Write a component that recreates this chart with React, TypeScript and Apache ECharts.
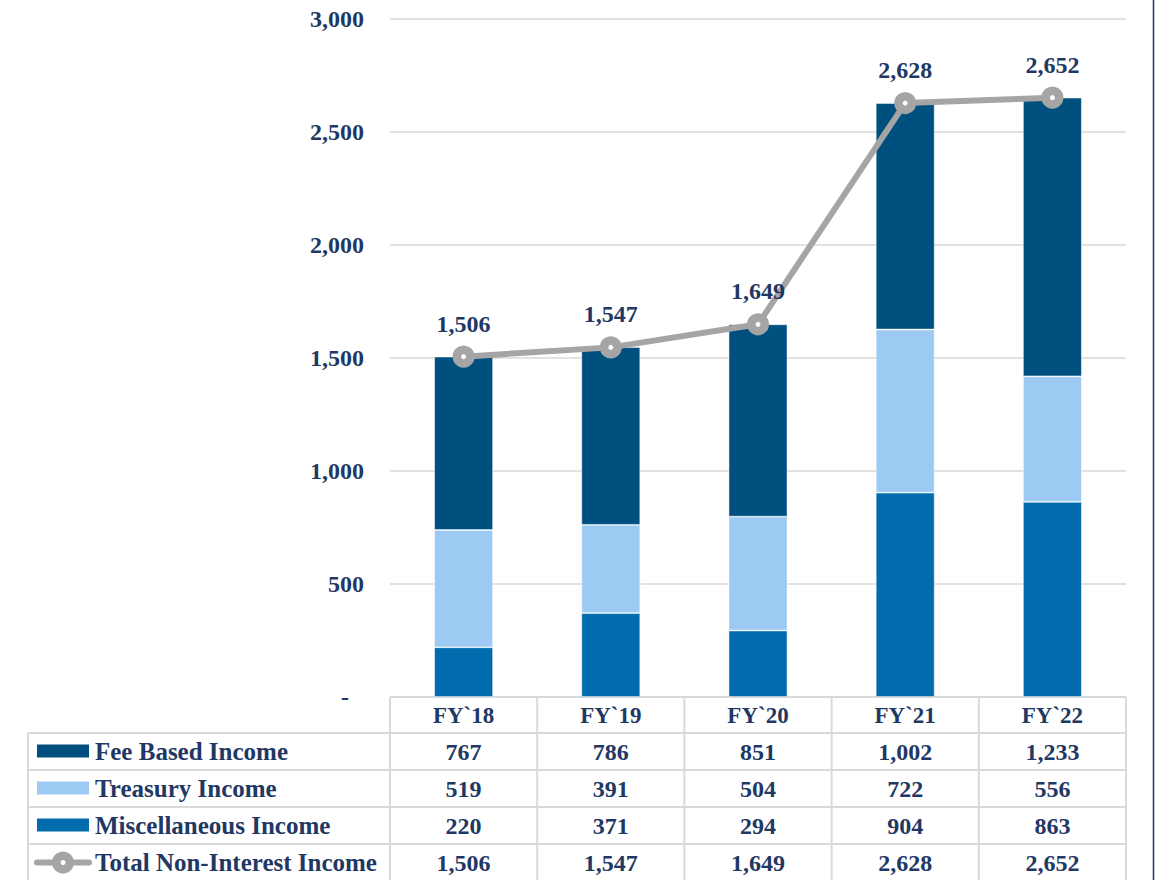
import React, { useEffect, useRef } from "react";
import * as echarts from "echarts";

const categories = ["FY`18", "FY`19", "FY`20", "FY`21", "FY`22"];
const feeBased = [767, 786, 851, 1002, 1233];
const treasury = [519, 391, 504, 722, 556];
const misc = [220, 371, 294, 904, 863];
const total = [1506, 1547, 1649, 2628, 2652];
const seriesNames = ["Fee Based Income", "Treasury Income", "Miscellaneous Income", "Total Non-Interest Income"];
const yTicks = { min: 0, max: 3000, interval: 500 };

const FONT = "'Liberation Serif', 'Times New Roman', serif";
const NAVY = "#1F3864";
const C_FEE = "#00507F";
const C_TRE = "#9DCAF3";
const C_MISC = "#006BAD";
const C_LINE = "#A5A5A5";
const GRID_C = "#D9D9D9";

const fmt = (v: number) => v.toLocaleString("en-US");

export default function App() {
  const ref = useRef<HTMLDivElement>(null);
  useEffect(() => {
    if (!ref.current) return;
    const chart = echarts.init(ref.current, undefined, { renderer: "svg" });
    const gridLeft = 390;
    const gridRight = 29;
    const gridTop = 19;
    const gridBottom = 183;
    chart.setOption({
      animation: false,
      grid: { left: gridLeft, right: gridRight, top: gridTop, bottom: gridBottom },
      xAxis: {
        type: "category",
        data: categories,
        axisLine: { show: false },
        axisTick: { show: false },
        axisLabel: {
          margin: 7,
          color: NAVY,
          fontFamily: FONT,
          fontWeight: "bold",
          fontSize: 23,
          lineHeight: 23,
        },
      },
      yAxis: {
        type: "value",
        min: yTicks.min,
        max: yTicks.max,
        interval: yTicks.interval,
        axisLine: { show: false },
        axisTick: { show: false },
        splitLine: { lineStyle: { color: GRID_C, width: 1.5 } },
        axisLabel: {
          margin: 26,
          color: NAVY,
          fontFamily: FONT,
          fontWeight: "bold",
          fontSize: 24,
          formatter: (v: number) => (v === 0 ? "{d|-}" : fmt(v)),
          rich: {
            d: { color: NAVY, fontFamily: FONT, fontWeight: "bold", fontSize: 24, padding: [0, 15, 0, 0] },
          },
        },
      },
      series: [
        {
          name: seriesNames[2],
          type: "bar",
          stack: "a",
          data: misc,
          barWidth: "40%",
          itemStyle: { color: C_MISC, borderColor: "rgba(255,255,255,0.6)", borderWidth: 0.8 },
        },
        {
          name: seriesNames[1],
          type: "bar",
          stack: "a",
          data: treasury,
          itemStyle: { color: C_TRE, borderColor: "rgba(255,255,255,0.6)", borderWidth: 0.8 },
        },
        {
          name: seriesNames[0],
          type: "bar",
          stack: "a",
          data: feeBased,
          itemStyle: { color: C_FEE, borderColor: "rgba(255,255,255,0.6)", borderWidth: 0.8 },
        },
        {
          name: seriesNames[3],
          type: "line",
          data: total,
          symbol: "circle",
          symbolSize: 13.5,
          lineStyle: { color: C_LINE, width: 6 },
          itemStyle: { color: "#ffffff", borderColor: C_LINE, borderWidth: 8.5 },
          label: {
            show: true,
            position: "top",
            distance: 10,
            color: NAVY,
            fontFamily: FONT,
            fontWeight: "bold",
            fontSize: 24,
            formatter: (p: any) => fmt(p.value),
          },
          z: 5,
        },
      ],
    });

    // Build the data table underneath, aligned with the category axis
    const centers = categories.map((c) => chart.convertToPixel({ xAxisIndex: 0 }, c) as number);
    const half = (centers[1] - centers[0]) / 2;
    const tableLeft = 28;
    const axisY = chart.convertToPixel({ yAxisIndex: 0 }, 0) as number;
    const rowH = 37;
    const headerBottom = axisY + 36;
    const rowTops = [headerBottom, headerBottom + rowH, headerBottom + 2 * rowH, headerBottom + 3 * rowH];
    const tableBottom = 880;
    const colRight = centers[centers.length - 1] + half;
    const lineStyle = { stroke: GRID_C, lineWidth: 2 };
    const elements: any[] = [];
    elements.push({ type: "line", shape: { x1: gridLeft, y1: axisY, x2: colRight, y2: axisY }, style: lineStyle });
    rowTops.forEach((y) => {
      elements.push({ type: "line", shape: { x1: tableLeft, y1: y, x2: colRight, y2: y }, style: lineStyle });
    });
    elements.push({ type: "line", shape: { x1: tableLeft, y1: headerBottom, x2: tableLeft, y2: tableBottom }, style: lineStyle });
    centers.forEach((cx, i) => {
      if (i === 0) {
        elements.push({ type: "line", shape: { x1: cx - half, y1: axisY, x2: cx - half, y2: tableBottom }, style: lineStyle });
      }
      elements.push({ type: "line", shape: { x1: cx + half, y1: axisY, x2: cx + half, y2: tableBottom }, style: lineStyle });
    });
    const rows = [feeBased, treasury, misc, total];
    const colors = [C_FEE, C_TRE, C_MISC];
    rows.forEach((vals, r) => {
      const cy = rowTops[r] + rowH / 2;
      if (r < 3) {
        elements.push({ type: "rect", shape: { x: 37, y: cy - 7, width: 52, height: 13 }, style: { fill: colors[r] } });
      } else {
        elements.push({ type: "line", shape: { x1: 37, y1: cy, x2: 89, y2: cy }, style: { stroke: C_LINE, lineWidth: 6, lineCap: "round" } });
        elements.push({ type: "circle", shape: { cx: 63, cy, r: 6.75 }, style: { fill: "#fff", stroke: C_LINE, lineWidth: 8.5 } });
      }
      elements.push({
        type: "text",
        x: 95,
        y: cy,
        style: { text: seriesNames[r], fill: NAVY, font: `bold 25px ${FONT}`, align: "left", verticalAlign: "middle" },
      });
      vals.forEach((v, i) => {
        elements.push({
          type: "text",
          x: centers[i],
          y: cy,
          style: { text: fmt(v), fill: NAVY, font: `bold 24px ${FONT}`, align: "center", verticalAlign: "middle" },
        });
      });
    });
    elements.push({ type: "line", shape: { x1: 1153.5, y1: 0, x2: 1153.5, y2: 880 }, style: { stroke: NAVY, lineWidth: 1.5 } });
    chart.setOption({ graphic: { elements } });
    return () => chart.dispose();
  }, []);
  return <div ref={ref} style={{ position: "absolute", left: 0, top: 0, width: 1155, height: 880 }} />;
}
